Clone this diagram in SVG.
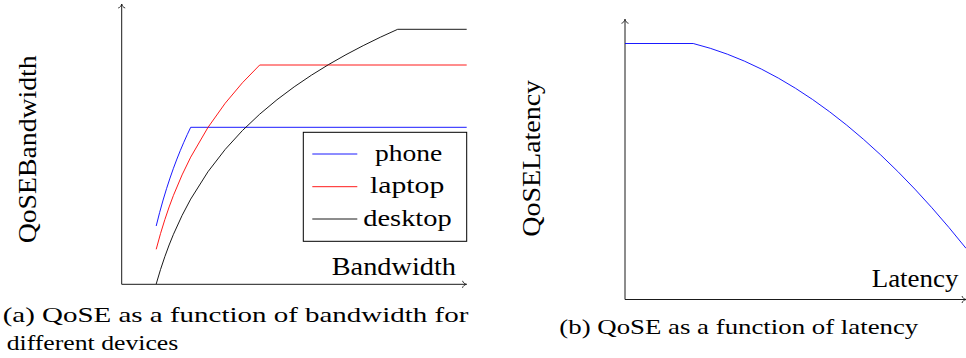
<svg xmlns="http://www.w3.org/2000/svg" width="966" height="358" viewBox="0 0 966 358">
<style>
.t{font-family:"Liberation Serif","Times New Roman",serif;fill:#000}
.lbl{font-size:25px}
.leg{font-size:24px}
.cap{font-size:21px}
.axis{fill:none;stroke:#1a1a1a;stroke-width:1}
.c{fill:none;stroke-width:0.9;stroke-linejoin:round}
.blue{stroke:#0000ff}
.red{stroke:#ff0000}
.blk{stroke:#000}
</style>
<defs>
<marker id="to" viewBox="-5 -5 6 10" markerWidth="6" markerHeight="10" refX="0" refY="0" orient="auto" markerUnits="userSpaceOnUse">
<path d="M-4,-3.5 C-3.5,-1.5 -1.5,-0.3 0,0 C-1.5,0.3 -3.5,1.5 -4,3.5" fill="none" stroke="#1a1a1a" stroke-width="0.9"/>
</marker>
</defs>

<g id="panel-a">
  <g id="axes-a">
    <line class="axis" x1="121.7" y1="284.3" x2="121.7" y2="4" marker-end="url(#to)"/>
    <line class="axis" x1="121.7" y1="284.3" x2="466.5" y2="284.3" marker-end="url(#to)"/>
  </g>
  <g id="curves-a">
    <polyline class="c blue" points="156.2,226 159.65,212.43 163.1,200.04 166.55,188.63 170,178.08 173.45,168.26 176.9,159.07 180.35,150.44 183.8,142.3 187.25,134.59 190.7,127.3 466.7,127.3"/>
    <polyline class="c red" points="156.2,249.3 160.51,233.64 164.83,219.63 169.14,206.96 173.45,195.39 182.08,174.9 190.7,157.15 207.95,127.48 225.2,103.24 242.45,82.74 259.7,65 466.7,65"/>
    <polyline class="c blk" points="156.2,284 160.51,269.57 164.83,256.67 169.14,244.98 173.45,234.33 182.08,215.45 190.7,199.1 207.95,171.75 225.2,149.42 242.45,130.53 259.7,114.18 276.95,99.75 294.2,86.85 311.45,75.17 328.7,64.5 345.95,54.7 363.2,45.63 380.45,37.17 397.7,29.3 466.7,29.3"/>
  </g>
  <g id="legend">
    <rect x="303.3" y="132.3" width="163.4" height="109" fill="#fff" stroke="#000" stroke-width="1"/>
    <line class="c blue" x1="312.3" y1="154" x2="357.3" y2="154"/>
    <line class="c red" x1="312.3" y1="186.7" x2="357.3" y2="186.7"/>
    <line class="c blk" x1="312.3" y1="219" x2="357.3" y2="219"/>
    <text class="t leg" x="375" y="160.5" textLength="67.3" lengthAdjust="spacingAndGlyphs">phone</text>
    <text class="t leg" x="370" y="193" textLength="74.3" lengthAdjust="spacingAndGlyphs">laptop</text>
    <text class="t leg" x="363.3" y="225.5" textLength="88.3" lengthAdjust="spacingAndGlyphs">desktop</text>
  </g>
  <text class="t lbl" x="331.7" y="275" textLength="124.3" lengthAdjust="spacingAndGlyphs">Bandwidth</text>
  <text class="t lbl" transform="translate(36,243.3) rotate(-90)" x="0" y="0" textLength="188" lengthAdjust="spacingAndGlyphs">QoSEBandwidth</text>
  <text class="t cap" x="2.7" y="321.5" textLength="465.6" lengthAdjust="spacingAndGlyphs">(a) QoSE as a function of bandwidth for</text>
  <text class="t cap" x="6.7" y="349.5" textLength="171.6" lengthAdjust="spacingAndGlyphs">different devices</text>
</g>

<g id="panel-b">
  <g id="axes-b">
    <line class="axis" x1="625" y1="299.5" x2="625" y2="19.3" marker-end="url(#to)"/>
    <line class="axis" x1="625" y1="299.5" x2="966" y2="299.5" marker-end="url(#to)"/>
  </g>
  <g id="curve-b">
    <path class="c blue" d="M625,43.5 L693.2,43.5 Q829.6,77.6 966,248.3"/>
  </g>
  <text class="t lbl" x="871.7" y="286.5" textLength="86.7" lengthAdjust="spacingAndGlyphs">Latency</text>
  <text class="t lbl" transform="translate(540,236.7) rotate(-90)" x="0" y="0" textLength="156.7" lengthAdjust="spacingAndGlyphs">QoSELatency</text>
  <text class="t cap" x="559.3" y="333.5" textLength="359" lengthAdjust="spacingAndGlyphs">(b) QoSE as a function of latency</text>
</g>
</svg>
